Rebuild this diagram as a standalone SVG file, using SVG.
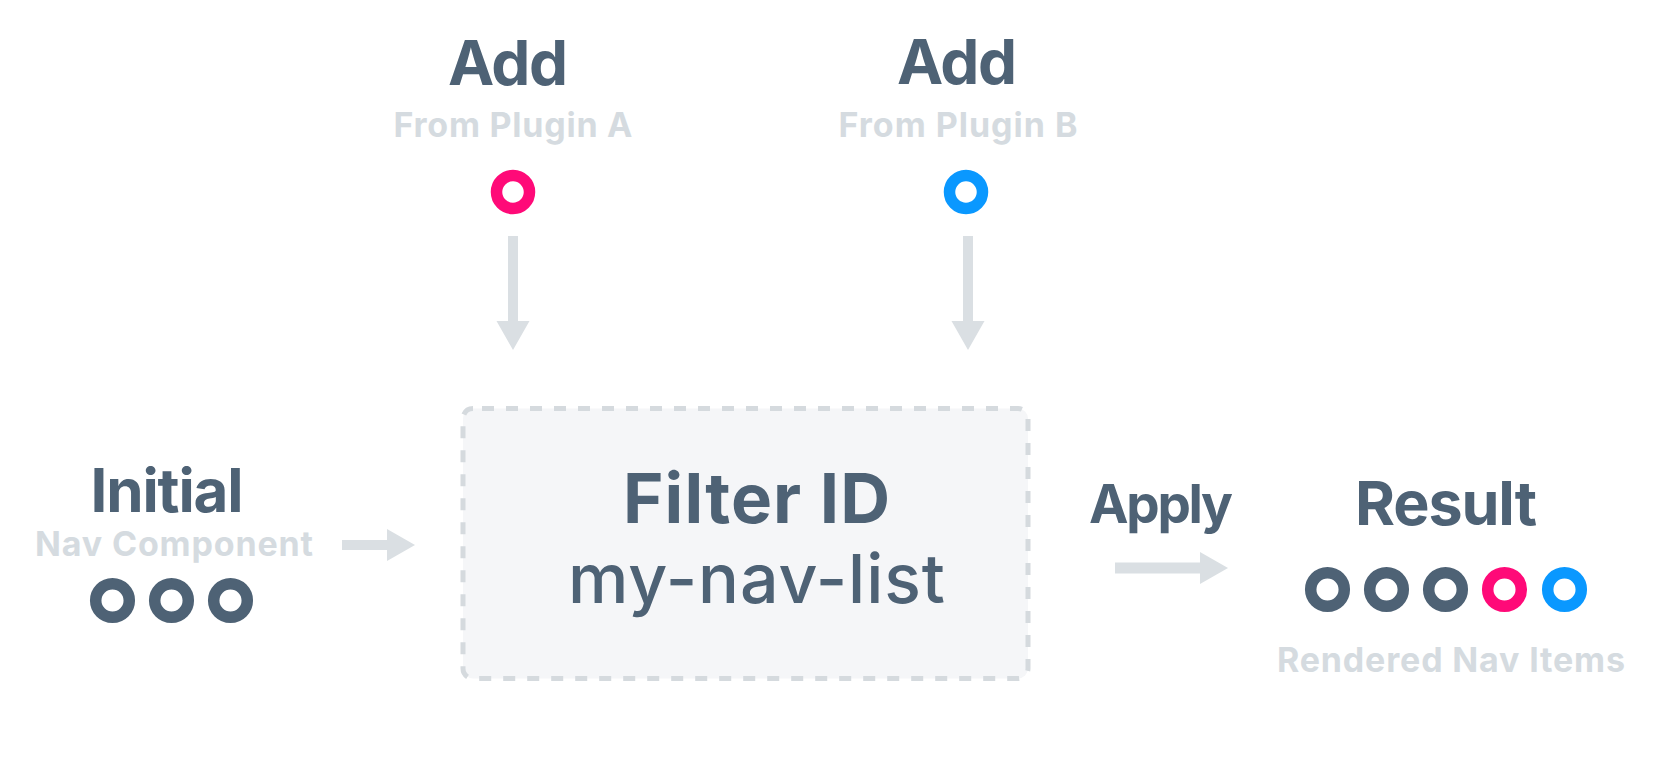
<svg xmlns="http://www.w3.org/2000/svg" width="1664" height="769" viewBox="0 0 1664 769">
<defs>
<style>
.title{font-family:Inter,"Liberation Sans",sans-serif;font-weight:700;fill:#4e6275;text-anchor:middle}
.sub{font-family:Inter,"Liberation Sans",sans-serif;font-weight:700;fill:#d5dbe0;text-anchor:middle;font-size:34px}
.mono{font-family:Inter,"Liberation Sans",sans-serif;font-weight:500;fill:#4e6275;text-anchor:middle}
.ring{fill:none;stroke-width:11.5}
.dark{stroke:#4e6275}
.pink{stroke:#ff0a78}
.blue{stroke:#0a98ff}
.arrow{fill:#dadfe3}
</style>
</defs>
<rect width="1664" height="769" fill="#ffffff"/>
<g id="plugin-a">
<text class="title" x="508" y="85" font-size="62" textLength="120">Add</text>
<text class="sub" x="513" y="137" textLength="239">From Plugin A</text>
<circle class="ring pink" cx="513" cy="192" r="16.5"/>
</g>
<g id="plugin-b">
<text class="title" x="957" y="84" font-size="62" textLength="120">Add</text>
<text class="sub" x="958" y="137" textLength="239">From Plugin B</text>
<circle class="ring blue" cx="966" cy="192" r="16.5"/>
</g>
<g id="initial">
<text class="title" x="167" y="512" font-size="60" textLength="153">Initial</text>
<text class="sub" x="174" y="556" textLength="278">Nav Component</text>
<circle class="ring dark" cx="112.5" cy="600.5" r="16.8"/>
<circle class="ring dark" cx="171.5" cy="600.5" r="16.8"/>
<circle class="ring dark" cx="230.5" cy="600.5" r="16.8"/>
</g>
<g id="filter">
<rect x="463" y="408.5" width="565" height="270" rx="10" fill="#f5f6f8" stroke="#d5dade" stroke-width="5" stroke-dasharray="12 12" stroke-dashoffset="15"/>
<text class="title" x="756.5" y="523" font-size="69" textLength="267">Filter ID</text>
<text class="mono" x="756.5" y="603" font-size="68" textLength="377">my-nav-list</text>
</g>
<g id="apply">
<text class="title" x="1161" y="523" font-size="53" textLength="144">Apply</text>
</g>
<g id="result">
<text class="title" x="1446" y="525" font-size="61" textLength="182">Result</text>
<circle class="ring dark" cx="1327.5" cy="589.5" r="16.8"/>
<circle class="ring dark" cx="1386.5" cy="589.5" r="16.8"/>
<circle class="ring dark" cx="1445.5" cy="589.5" r="16.8"/>
<circle class="ring pink" cx="1504.5" cy="589.5" r="16.8"/>
<circle class="ring blue" cx="1564.5" cy="589.5" r="16.8"/>
<text class="sub" x="1451" y="672" textLength="348">Rendered Nav Items</text>
</g>
<g id="connectors">
<path class="arrow" d="M508 236 H518 V321 H529.5 L513 350 L496.5 321 H508 Z"/>
<path class="arrow" d="M963 236 H973 V321 H984.5 L968 350 L951.5 321 H963 Z"/>
<path class="arrow" d="M342 540 H387 V529 L415 545 L387 561 V550 H342 Z"/>
<path class="arrow" d="M1115 562.5 H1200 V552 L1228 568 L1200 584 V573.5 H1115 Z"/>
</g>
</svg>
